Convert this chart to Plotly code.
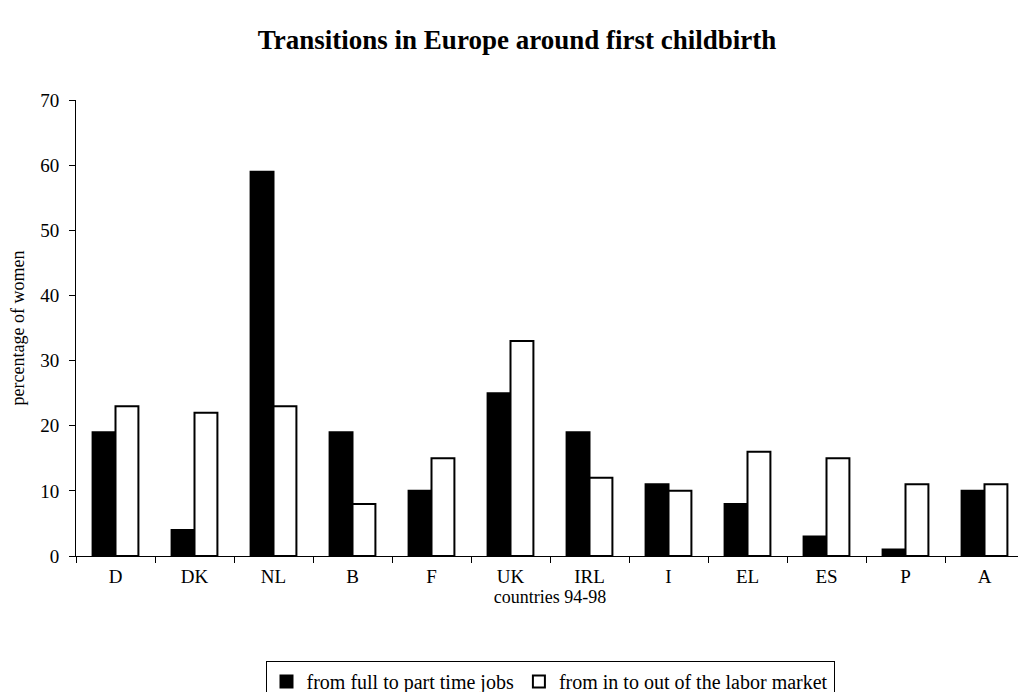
import plotly.graph_objects as go

countries = ["D", "DK", "NL", "B", "F", "UK", "IRL", "I", "EL", "ES", "P", "A"]
full_to_part = [19, 4, 59, 19, 10, 25, 19, 11, 8, 3, 1, 10]
in_to_out = [23, 22, 23, 8, 15, 33, 12, 10, 16, 15, 11, 11]
y_ticks = [0, 10, 20, 30, 40, 50, 60, 70]

font = "Liberation Serif, Times New Roman, serif"
W, H = 1018, 684  # page body has an 8px margin

fig = go.Figure()
fig.add_trace(go.Bar(
    x=countries, y=full_to_part, name="from full to part time jobs",
    marker=dict(color="black", line=dict(color="black", width=2)),
))
fig.add_trace(go.Bar(
    x=countries, y=in_to_out, name="from in to out of the labor market",
    marker=dict(color="white", line=dict(color="black", width=2)),
))

fig.update_layout(
    width=W, height=H,
    paper_bgcolor="white", plot_bgcolor="white",
    font=dict(family=font, size=19, color="black"),
    title=dict(text="<b>Transitions in Europe around first childbirth</b>",
               x=0.5, xref="container", y=1 - 32 / H, yref="container",
               xanchor="center", yanchor="middle",
               font=dict(size=27, family=font, color="black")),
    margin=dict(l=68, r=2, t=92, b=136),
    barmode="group", bargap=0.42, bargroupgap=0,
    showlegend=True,
    legend=dict(orientation="h", x=0.5, xref="paper", xanchor="center",
                y=1 - 653 / H, yref="container", yanchor="top",
                bordercolor="black", borderwidth=1,
                font=dict(size=20, family=font, color="black"),
                itemsizing="constant", traceorder="normal"),
    xaxis=dict(
        title=dict(text="countries 94-98", font=dict(size=18, family=font), standoff=4),
        showline=True, linecolor="black", linewidth=1,
        ticks="outside", tickson="boundaries", ticklen=6, tickcolor="black",
        tickfont=dict(size=19, family=font), showgrid=False, ticklabelstandoff=3,
    ),
    yaxis=dict(
        title=dict(text="percentage of women", font=dict(size=18, family=font), standoff=14),
        range=[0, 70], tickvals=y_ticks,
        showline=True, linecolor="black", linewidth=1,
        ticks="outside", ticklen=6, tickcolor="black",
        tickfont=dict(size=19, family=font), showgrid=False, zeroline=False,
        ticklabelstandoff=6,
    ),
)

fig.write_html("out.html")
